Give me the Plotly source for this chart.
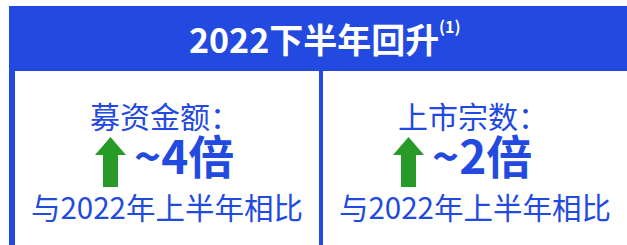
import plotly.graph_objects as go

# ---- data ----
header_title = "2022下半年回升"
header_note = "(1)"
metric_labels = ["募资金额：", "上市宗数："]
metric_multiples = ["~4倍", "~2倍"]
comparison_text = ["与2022年上半年相比", "与2022年上半年相比"]

BLUE = "#2249E0"
GREEN = "#279A27"
FONT = "Noto Sans CJK SC"
W, H = 627, 245

fig = go.Figure()

shapes = []
# outer blue box (cut on right / bottom)
shapes.append(dict(type="rect", x0=9, x1=W + 20, y0=6, y1=H + 20,
                   fillcolor=BLUE, line=dict(width=0), layer="below"))
# two white panels
panels = [(15, 319), (323, W + 20)]
for x0, x1 in panels:
    shapes.append(dict(type="rect", x0=x0, x1=x1, y0=71, y1=H + 20,
                       fillcolor="white", line=dict(width=0), layer="below"))

annotations = [
    dict(x=314, y=38, xref="x", yref="y", text=header_title,
         showarrow=False, xanchor="center", yanchor="middle",
         font=dict(family=FONT, size=34, color="white", weight=700)),
    dict(x=437, y=26, xref="x", yref="y", text=header_note,
         showarrow=False, xanchor="left", yanchor="middle",
         font=dict(family=FONT, size=16, color="white", weight=700)),
]

centers = [167, 475]
arrow_x = [95, 393]
for i, c in enumerate(centers):
    annotations.append(dict(x=c - 2, y=115, xref="x", yref="y", text=metric_labels[i],
                            showarrow=False, xanchor="center", yanchor="middle",
                            font=dict(family=FONT, size=30, color=BLUE)))
    annotations.append(dict(x=arrow_x[i] + 37, y=154, xref="x", yref="y",
                            text=metric_multiples[i],
                            showarrow=False, xanchor="left", yanchor="middle",
                            font=dict(family=FONT, size=46, color=BLUE, weight=700)))
    annotations.append(dict(x=c, y=206, xref="x", yref="y", text=comparison_text[i],
                            showarrow=False, xanchor="center", yanchor="middle",
                            font=dict(family=FONT, size=29.5, color=BLUE)))
    ax = arrow_x[i]
    path = (f"M {ax},155 L {ax+15.5},137 L {ax+31},155 L {ax+23},155 "
            f"L {ax+23},187 L {ax+8},187 L {ax+8},155 Z")
    shapes.append(dict(type="path", path=path, fillcolor=GREEN,
                       line=dict(width=0), layer="above"))

fig.update_layout(
    width=W, height=H, margin=dict(l=0, r=0, t=0, b=0),
    paper_bgcolor="white", plot_bgcolor="white",
    xaxis=dict(range=[0, W], visible=False, fixedrange=True),
    yaxis=dict(range=[H, 0], visible=False, fixedrange=True),
    shapes=shapes, annotations=annotations, showlegend=False,
)

fig.write_html("out.html", config={"displayModeBar": False},
               post_script="document.body.style.margin='0';document.body.style.overflow='hidden';")
